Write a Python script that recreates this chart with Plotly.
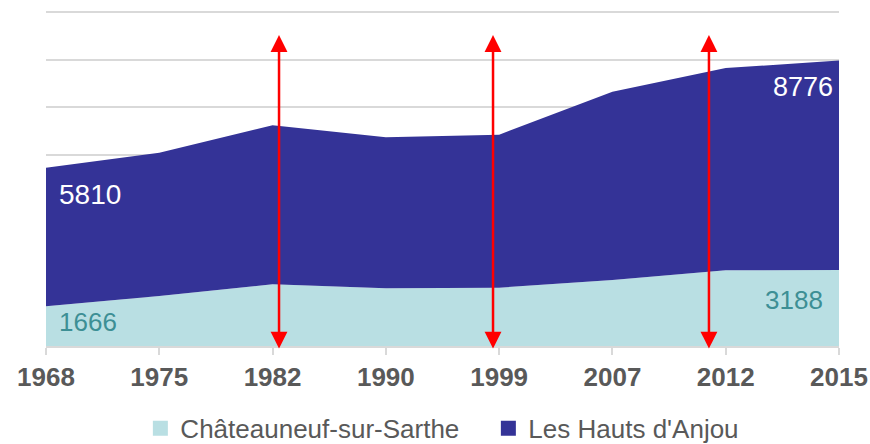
import plotly.graph_objects as go

years = ["1968", "1975", "1982", "1990", "1999", "2007", "2012", "2015"]
chateauneuf = [1666, 2095, 2586, 2418, 2443, 2766, 3172, 3188]
hauts_anjou = [5810, 6007, 6664, 6328, 6413, 7893, 8480, 8776]
names = ["Châteauneuf-sur-Sarthe", "Les Hauts d'Anjou"]
arrow_x = [2.057, 3.946, 5.852]   # category positions of the red arrows
arrow_y = [-168, 13036]

light = "#B9DFE3"
dark = "#343397"
teal = "#3D8F95"
gray = "#595959"
FONT = "Arial, Liberation Sans, sans-serif"

fig = go.Figure()
fig.add_trace(go.Scatter(x=years, y=chateauneuf, name=names[0], stackgroup="one",
                         mode="none", fillcolor=light, showlegend=False))
fig.add_trace(go.Scatter(x=years, y=hauts_anjou, name=names[1], stackgroup="one",
                         mode="none", fillcolor=dark, showlegend=False))
# legend entries (square swatches)
for nm, col in zip(names, [light, dark]):
    fig.add_trace(go.Scatter(x=[None], y=[None], mode="markers", name=nm,
                             marker=dict(symbol="square", size=15, color=col)))

total0 = chateauneuf[0] + hauts_anjou[0]
totalN = chateauneuf[-1] + hauts_anjou[-1]
ann = [
    dict(x=0, y=total0, text=str(hauts_anjou[0]), xanchor="left", yanchor="middle",
         xshift=11, yshift=-27, font=dict(color="white", size=28)),
    dict(x=0, y=chateauneuf[0], text=str(chateauneuf[0]), xanchor="left", yanchor="middle",
         xshift=11, yshift=-16, font=dict(color=teal, size=26)),
    dict(x=7, y=totalN, text=str(hauts_anjou[-1]), xanchor="right", yanchor="middle",
         xshift=-4, yshift=-26, font=dict(color="white", size=27)),
    dict(x=7, y=chateauneuf[-1], text=str(chateauneuf[-1]), xanchor="right", yanchor="middle",
         xshift=-14, yshift=-30, font=dict(color=teal, size=26)),
]
for a in ann:
    a.update(xref="x", yref="y", showarrow=False)
for ax_ in arrow_x:
    ann.append(dict(x=ax_, y=arrow_y[1], ax=ax_, ay=arrow_y[0], xref="x", yref="y",
                    axref="x", ayref="y", text="", showarrow=True, arrowhead=2,
                    startarrowhead=2, arrowside="end+start", arrowsize=1.35,
                    startarrowsize=1.35, arrowwidth=2.5, arrowcolor="#FF0000"))

fig.update_layout(
    width=870, height=444,
    margin=dict(l=46, r=31, t=10, b=98, autoexpand=False),
    paper_bgcolor="white", plot_bgcolor="white",
    font=dict(family=FONT, color=gray, size=26),
    annotations=ann,
    legend=dict(orientation="h", x=0.119, xanchor="left", y=-0.175, yanchor="top",
                font=dict(size=26, color=gray), itemwidth=30, traceorder="normal",
                entrywidth=303, entrywidthmode="pixels"),
    xaxis=dict(type="category", range=[0, 7], showgrid=False, showline=True,
               linecolor="#D9D9D9", linewidth=2, ticks="outside", ticklen=7,
               tickcolor="#D9D9D9", tickwidth=2, automargin=False,
               tickfont=dict(size=26, color=gray, family=FONT, weight="bold")),
    yaxis=dict(range=[0, 14084], tickvals=[0, 2000, 4000, 6000, 8000, 10000, 12000, 14000],
               showgrid=True, gridcolor="#D9D9D9", automargin=False,
               gridwidth=1.5, showticklabels=False, zeroline=False, showline=False),
)
fig.write_html("out.html", config={"displayModeBar": False},
               post_script="document.body.style.margin='0';document.body.style.overflow='hidden';")
